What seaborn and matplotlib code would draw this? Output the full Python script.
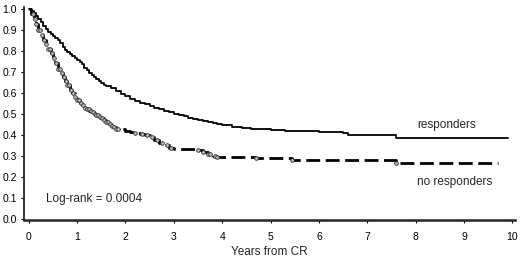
import numpy as np
import pandas as pd
import seaborn as sns
import matplotlib
matplotlib.use('Agg')
import matplotlib.pyplot as plt

# Kaplan-Meier style step curves
resp_t = [0, 0.05, 0.1, 0.15, 0.2, 0.25, 0.3, 0.35, 0.4, 0.45, 0.5, 0.55, 0.6, 0.65,
          0.7, 0.75, 0.8, 0.85, 0.9, 0.95, 1.0, 1.05, 1.1, 1.15, 1.2, 1.25, 1.3, 1.35,
          1.4, 1.45, 1.5, 1.55, 1.6, 1.7, 1.8, 1.9, 2.0, 2.1, 2.2, 2.3, 2.4, 2.5, 2.6,
          2.7, 2.8, 2.9, 3.0, 3.1, 3.2, 3.3, 3.4, 3.5, 3.6, 3.7, 3.8, 3.9, 4.0, 4.2,
          4.4, 4.6, 4.8, 5.0, 5.3, 5.6, 6.0, 6.5, 6.6, 7.6, 9.9]
resp_s = [1.0, 0.99, 0.98, 0.965, 0.95, 0.935, 0.92, 0.905, 0.89, 0.88, 0.87, 0.86,
          0.85, 0.835, 0.82, 0.805, 0.795, 0.785, 0.775, 0.765, 0.755, 0.745, 0.735,
          0.72, 0.71, 0.695, 0.685, 0.675, 0.665, 0.655, 0.645, 0.638, 0.632, 0.622,
          0.61, 0.595, 0.585, 0.572, 0.56, 0.552, 0.545, 0.537, 0.53, 0.522, 0.515,
          0.507, 0.50, 0.495, 0.49, 0.482, 0.475, 0.47, 0.465, 0.46, 0.455, 0.45,
          0.445, 0.44, 0.435, 0.43, 0.427, 0.425, 0.42, 0.418, 0.415, 0.41, 0.40,
          0.385, 0.385]

nr_t = [0, 0.05, 0.1, 0.15, 0.2, 0.25, 0.3, 0.35, 0.4, 0.45, 0.5, 0.55, 0.6, 0.65,
        0.7, 0.75, 0.8, 0.85, 0.9, 0.95, 1.0, 1.05, 1.1, 1.15, 1.2, 1.25, 1.3, 1.35,
        1.4, 1.45, 1.5, 1.55, 1.6, 1.65, 1.7, 1.75, 1.8, 1.9, 2.0, 2.1, 2.2, 2.3,
        2.4, 2.5, 2.6, 2.7, 2.8, 2.9, 3.0, 3.5, 3.6, 3.7, 3.8, 3.9, 4.7, 5.45, 7.6,
        9.7]
nr_s = [1.0, 0.975, 0.95, 0.925, 0.9, 0.875, 0.85, 0.83, 0.81, 0.79, 0.765, 0.74,
        0.715, 0.695, 0.675, 0.655, 0.635, 0.615, 0.598, 0.58, 0.565, 0.55, 0.54,
        0.53, 0.522, 0.515, 0.508, 0.50, 0.494, 0.487, 0.48, 0.47, 0.46, 0.45,
        0.443, 0.437, 0.43, 0.427, 0.42, 0.415, 0.41, 0.405, 0.40, 0.39, 0.375,
        0.36, 0.35, 0.34, 0.335, 0.33, 0.318, 0.31, 0.30, 0.295, 0.29, 0.28,
        0.265, 0.265]

# censored observations on the no-responders curve
nr_cens = [0.08, 0.12, 0.16, 0.2, 0.24, 0.28, 0.32, 0.36, 0.4, 0.44, 0.48, 0.52,
           0.56, 0.6, 0.64, 0.68, 0.72, 0.76, 0.8, 0.84, 0.88, 0.92, 0.96, 1.0,
           1.04, 1.08, 1.12, 1.16, 1.2, 1.24, 1.28, 1.32, 1.36, 1.4, 1.44, 1.48,
           1.52, 1.56, 1.6, 1.64, 1.68, 1.72, 1.76, 1.8, 1.85, 2.2, 2.35, 2.45,
           2.55, 2.65, 2.75, 2.85, 2.95, 3.5, 3.6, 3.7, 3.75, 3.85, 3.9, 4.7,
           5.45, 7.6]

x_ticks = [0, 1, 2, 3, 4, 5, 6, 7, 8, 9, 10]
y_ticks = [0.0, 0.1, 0.2, 0.3, 0.4, 0.5, 0.6, 0.7, 0.8, 0.9, 1.0]

resp = pd.DataFrame({'t': resp_t, 's': resp_s})
nr = pd.DataFrame({'t': nr_t, 's': nr_s})
idx = np.searchsorted(nr_t, nr_cens, side='right') - 1
cens = pd.DataFrame({'t': nr_cens, 's': np.array(nr_s)[idx]})

sns.set_style('ticks')
plt.rcParams['font.family'] = ['Liberation Sans', 'DejaVu Sans']

fig, ax = plt.subplots(figsize=(5.2, 2.63), dpi=100)
fig.subplots_adjust(left=0.046, right=0.99, bottom=0.163, top=0.975)

sns.lineplot(data=resp, x='t', y='s', ax=ax, color='black', lw=1.3,
             drawstyle='steps-post', estimator=None, sort=False)
sns.lineplot(data=nr, x='t', y='s', ax=ax, color='black', lw=2.0,
             drawstyle='steps-post', estimator=None, sort=False,
             dashes=False, linestyle=(0, (5, 2)))
sns.scatterplot(data=cens, x='t', y='s', ax=ax, marker='o', s=7,
                facecolor='#bbbbbb', edgecolor='#333333', linewidth=0.6, zorder=3)

ax.text(8.65, 0.445, 'responders', fontsize=8.5, ha='center', va='center')
ax.text(8.8, 0.175, 'no responders', fontsize=8.5, ha='center', va='center')
ax.text(1.36, 0.095, 'Log-rank = 0.0004', fontsize=8.5, ha='center', va='center')

ax.set_xlim(-0.1, 10.05)
ax.set_ylim(-0.005, 1.01)
ax.set_xticks(x_ticks)
ax.set_yticks(y_ticks)
ax.set_yticklabels([f'{v:.1f}' for v in y_ticks])
ax.tick_params(labelsize=7.5, length=2.5, width=0.8, colors='black', pad=2.5)
ax.tick_params(axis='x', pad=6)
ax.set_xlabel('Years from CR', fontsize=8.5, labelpad=3)
ax.set_ylabel('')
for sp in ['top', 'right']:
    ax.spines[sp].set_visible(False)
ax.spines['left'].set_linewidth(1.3)
ax.spines['bottom'].set_linewidth(1.8)

fig.savefig('out.png', dpi=100)
